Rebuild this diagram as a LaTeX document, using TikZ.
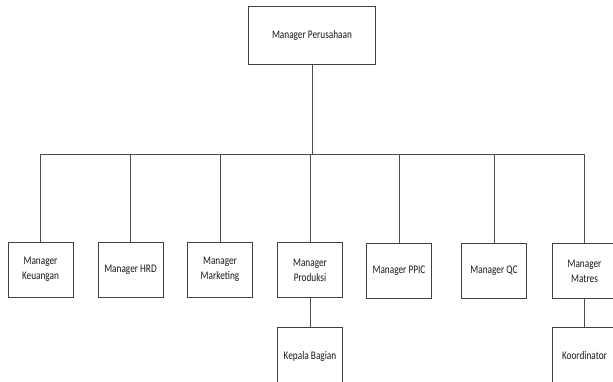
\documentclass[tikz,border=0pt]{standalone}
\usepackage{fontspec}
\setmainfont[FakeStretch=0.8]{Carlito}
\begin{document}
\begin{tikzpicture}[x=1pt,y=-1pt,
  box/.style={draw=black!75,line width=0.8pt,fill=white,rectangle,
    minimum width=65pt,minimum height=55pt,inner sep=1pt,
    align=center,font=\fontsize{11.6}{15}\selectfont,text=black!90},
  link/.style={draw=black!70,line width=0.8pt}]
\useasboundingbox (0,0) rectangle (613,381);
\begin{scope}
\clip (0,0) rectangle (613,381);
% top level
\node[box,minimum width=127pt,minimum height=58pt] (top) at (312,35.5) {Manager Perusahaan};
% managers
\node[box] (keu) at (40.5,269.5) {Manager\\Keuangan};
\node[box] (hrd) at (130.5,269.5) {Manager HRD};
\node[box] (mkt) at (220,269.5) {Manager\\Marketing};
\node[box] (prd) at (310,270) {Manager\\Produksi};
\node[box] (ppic) at (399,271) {Manager PPIC};
\node[box] (qc) at (494,271) {Manager QC};
\node[box] (mat) at (584.5,271) {Manager\\Matres};
% sub-units
\node[box,minimum height=58pt] (kep) at (310,356) {Kepala Bagian};
\node[box,minimum height=58pt] (koo) at (584.5,356) {Koordinator};
% bus line
\coordinate (bus) at (312,154);
\draw[link] (top.south) -- (bus);
\draw[link] (keu.north |- bus) -- (mat.north |- bus);
\foreach \n in {keu,hrd,mkt,prd,ppic,qc,mat}
  \draw[link] (\n.north |- bus) -- (\n.north);
\draw[link] (prd.south) -- (kep.north);
\draw[link] (mat.south) -- (koo.north);
\end{scope}
\end{tikzpicture}
\end{document}
